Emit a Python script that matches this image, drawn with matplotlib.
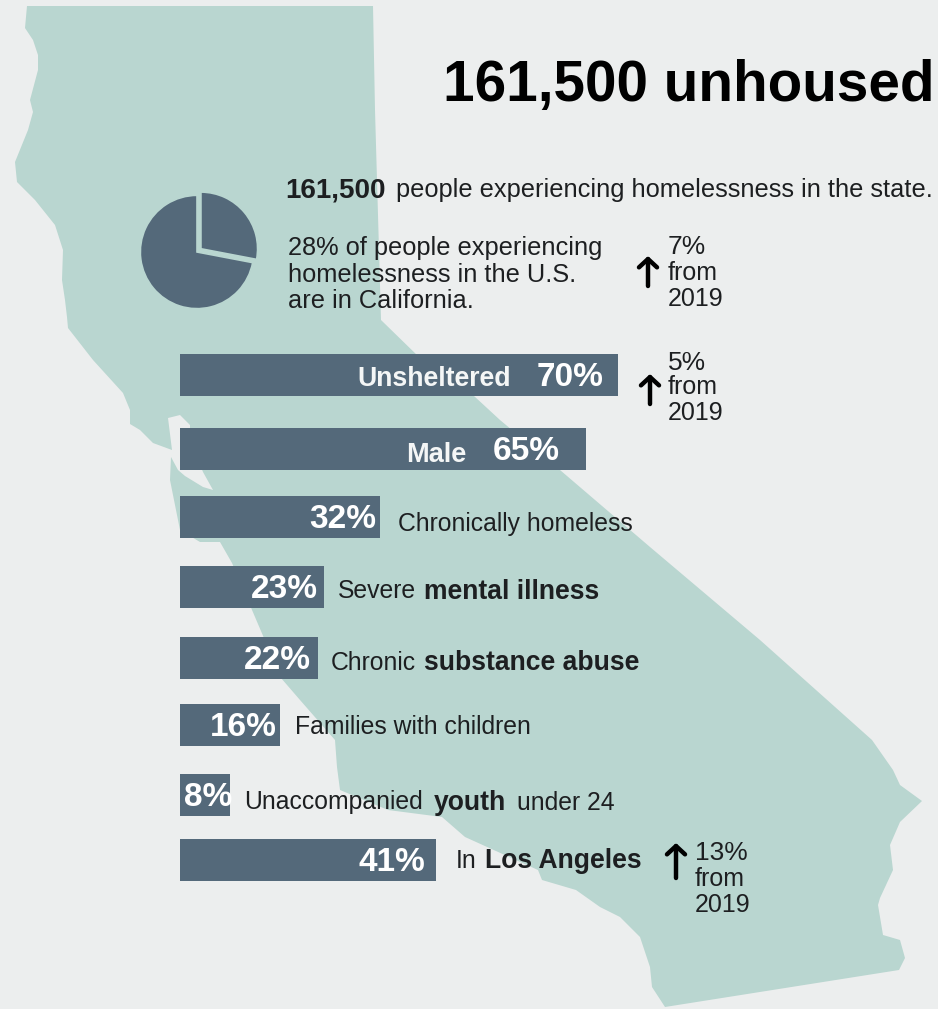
import matplotlib
matplotlib.use('Agg')
import matplotlib.pyplot as plt
from matplotlib.patches import Polygon
import numpy as np

BG = '#eceeee'
LAND = '#b9d6d0'
BAR = '#54697a'
INK = '#1d1f21'

plt.rcParams['font.family'] = ['Liberation Sans', 'DejaVu Sans']

# California outline, clockwise from the north-west corner
state_x = [27, 373, 375, 381, 420, 474, 500, 560, 650, 760, 872, 893, 900, 922, 900, 890, 893,
           880, 878, 883, 900, 905, 899, 665, 652, 650, 640, 620, 600, 576, 542, 538, 465, 442,
           388, 340, 337, 335, 300, 281, 232, 220, 200, 180, 170, 171, 178, 185, 203, 213, 203,
           190, 190, 180, 168, 172, 153, 140, 130, 130, 123, 93, 68, 67, 65, 62, 63, 55, 35, 17,
           15, 28, 33, 30, 38, 38, 33, 25]
state_y = [6, 6, 110, 320, 358, 396, 420, 470, 547, 640, 740, 770, 785, 801, 822, 845, 870,
           898, 905, 935, 940, 958, 970, 1007, 987, 967, 937, 917, 907, 890, 880, 870, 837, 817,
           810, 790, 767, 740, 700, 678, 563, 542, 542, 530, 480, 457, 470, 476, 487, 490, 472,
           440, 425, 415, 418, 450, 443, 430, 424, 410, 393, 360, 328, 317, 300, 280, 250, 225, 200, 182,
           162, 130, 112, 100, 70, 55, 40, 28]

pie_shares = [28, 72]

bar_values = [70, 65, 32, 23, 22, 16, 8, 41]
bar_rows = [375, 449, 517, 587, 658, 725, 795, 860]
value_labels = ['70%', '65%', '32%', '23%', '22%', '16%', '8%', '41%']
label_right = [603, 560, 376, 318, 311, 277, 232, 425]

BAR_LEFT = 180
PX_PER_PCT = 6.25

fig = plt.figure(figsize=(9.38, 10.09), dpi=100, facecolor=BG)
ax = fig.add_axes([0, 0, 1, 1])
ax.set_xlim(0, 938)
ax.set_ylim(1009, 0)
ax.axis('off')

ax.add_patch(Polygon(np.column_stack([state_x, state_y]), closed=True, fc=LAND, ec='none', zorder=1))

renderer = fig.canvas.get_renderer()


def write_parts(x, y, parts, gap=8):
    # run of regular and bold pieces on one line
    for piece, weight in parts:
        size = 19.1 if weight == 'bold' else 17.8
        t = ax.text(x, y, piece, fontsize=size, fontweight=weight, color=INK,
                    va='center_baseline', ha='left', zorder=5)
        x += t.get_window_extent(renderer).width + gap


def up_arrow(x, y_low, y_high):
    ax.annotate('', xy=(x, y_high), xytext=(x, y_low), zorder=5,
                arrowprops=dict(arrowstyle='->,head_width=0.65,head_length=0.6', lw=3.2, color='black',
                                shrinkA=0, shrinkB=0))


def change_note(x, y, first, from_y):
    ax.text(x, y, first, fontsize=19, color=INK, va='center_baseline', zorder=5)
    ax.text(x, from_y, 'from', fontsize=18, color=INK, va='center_baseline', zorder=5)
    ax.text(x, from_y + 26, '2019', fontsize=18, color=INK, va='center_baseline', zorder=5)


ax.text(443, 80, '161,500 unhoused', fontsize=40.8, fontweight='bold', color='black',
        va='center_baseline', zorder=5)

ax.text(285, 187, '161,500', fontsize=20, fontweight='bold', color=INK, va='center_baseline', zorder=5)
ax.text(396, 187, 'people experiencing homelessness in the state.', fontsize=18.3, color=INK,
        va='center_baseline', zorder=5)

for y, line in zip([246, 272, 298], ['28% of people experiencing', 'homelessness in the U.S.', 'are in California.']):
    ax.text(288, y, line, fontsize=18.3, color=INK, va='center_baseline', zorder=5)

# share of the national total
pie_ax = fig.add_axes([(197 - 68) / 938, 1 - (252 + 68) / 1009, 136 / 938, 136 / 1009])
pie_ax.pie(pie_shares, startangle=90, counterclock=False, colors=[BAR, BAR], explode=[0.09, 0],
           radius=1, wedgeprops=dict(edgecolor=LAND, linewidth=1.2))
pie_ax.set_xlim(-1.2, 1.2)
pie_ax.set_ylim(-1.2, 1.2)
pie_ax.patch.set_alpha(0)

widths = np.array(bar_values) * PX_PER_PCT
ax.barh(bar_rows, widths, height=42, left=BAR_LEFT, color=BAR, zorder=3)

for row, right, label in zip(bar_rows, label_right, value_labels):
    ax.text(right, row - 1, label, fontsize=24, fontweight='bold', color='white', ha='right',
            va='center_baseline', zorder=6)

ax.text(511, bar_rows[0] + 1, 'Unsheltered', fontsize=19.2, fontweight='bold', color='#f4f6f6',
        ha='right', va='center_baseline', zorder=6)
ax.text(466, bar_rows[1] + 3, 'Male', fontsize=19.5, fontweight='bold', color='#f4f6f6',
        ha='right', va='center_baseline', zorder=6)

write_parts(398, 521, [('Chronically homeless', 'normal')])
write_parts(338, 589, [('Severe', 'normal'), ('mental illness', 'bold')])
write_parts(331, 660, [('Chronic', 'normal'), ('substance abuse', 'bold')])
write_parts(295, 725, [('Families with children', 'normal')])
write_parts(244, 800, [('Unaccompanied', 'normal'), ('youth', 'bold'), ('under 24', 'normal')], gap=11)
write_parts(456, 858, [('In', 'normal'), ('Los Angeles', 'bold')])

up_arrow(648, 286, 256)
change_note(668, 245, '7%', 271)
up_arrow(650, 404, 374)
change_note(668, 360, '5%', 385)
up_arrow(676, 878, 843)
change_note(695, 851, '13%', 877)

fig.savefig('out.png', dpi=100, facecolor=BG)
